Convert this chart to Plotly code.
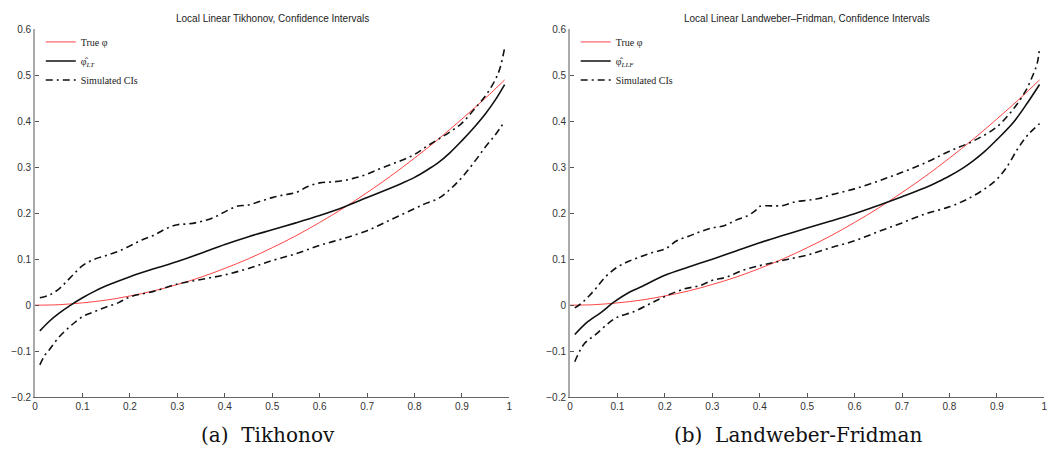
import plotly.graph_objects as go

# ---------------- data ----------------
true_x = [0, 0.05, 0.1, 0.15, 0.2, 0.25, 0.3, 0.35, 0.4, 0.45, 0.5, 0.55, 0.6,
          0.65, 0.7, 0.75, 0.8, 0.85, 0.9, 0.95, 0.99]
true_y = [0, 0.001, 0.005, 0.011, 0.02, 0.031, 0.045, 0.061, 0.08, 0.101, 0.125,
          0.151, 0.18, 0.211, 0.245, 0.281, 0.32, 0.361, 0.405, 0.451, 0.49]

lt_x = [0.01, 0.03, 0.05, 0.075, 0.1, 0.125, 0.15, 0.2, 0.25, 0.3, 0.35, 0.4, 0.45,
        0.5, 0.55, 0.6, 0.65, 0.7, 0.75, 0.775, 0.8, 0.825, 0.85, 0.875, 0.9, 0.925,
        0.95, 0.97, 0.99]
lt_y = [-0.056, -0.035, -0.018, 0.0, 0.016, 0.03, 0.042, 0.062, 0.079, 0.095, 0.113,
        0.132, 0.149, 0.164, 0.179, 0.195, 0.213, 0.234, 0.255, 0.266, 0.278, 0.293,
        0.31, 0.332, 0.358, 0.386, 0.417, 0.446, 0.48]

lt_up_x = [0.01, 0.03, 0.05, 0.065, 0.08, 0.1, 0.125, 0.15, 0.175, 0.2, 0.225, 0.25,
           0.275, 0.3, 0.325, 0.35, 0.375, 0.4, 0.425, 0.45, 0.475, 0.5, 0.525, 0.55,
           0.575, 0.6, 0.625, 0.65, 0.675, 0.7, 0.725, 0.75, 0.775, 0.8, 0.825, 0.85,
           0.875, 0.9, 0.925, 0.95, 0.97, 0.98, 0.99]
lt_up_y = [0.016, 0.022, 0.035, 0.05, 0.066, 0.086, 0.1, 0.108, 0.117, 0.129, 0.142,
           0.152, 0.166, 0.175, 0.177, 0.182, 0.19, 0.203, 0.215, 0.218, 0.226, 0.234,
           0.24, 0.245, 0.258, 0.266, 0.268, 0.271, 0.277, 0.285, 0.296, 0.306, 0.316,
           0.328, 0.345, 0.361, 0.377, 0.396, 0.425, 0.456, 0.49, 0.515, 0.56]

lt_lo_x = [0.01, 0.02, 0.03, 0.05, 0.075, 0.1, 0.125, 0.15, 0.175, 0.2, 0.25, 0.3,
           0.35, 0.4, 0.45, 0.5, 0.55, 0.6, 0.65, 0.7, 0.75, 0.8, 0.825, 0.85, 0.875,
           0.9, 0.925, 0.95, 0.97, 0.99]
lt_lo_y = [-0.13, -0.11, -0.097, -0.07, -0.045, -0.025, -0.014, -0.004, 0.005, 0.018,
           0.03, 0.046, 0.056, 0.066, 0.08, 0.097, 0.112, 0.13, 0.145, 0.162, 0.186,
           0.21, 0.222, 0.232, 0.252, 0.278, 0.31, 0.345, 0.37, 0.4]

llf_x = [0.01, 0.035, 0.065, 0.093, 0.125, 0.15, 0.2, 0.25, 0.3, 0.35, 0.4, 0.45,
         0.5, 0.55, 0.6, 0.65, 0.7, 0.75, 0.775, 0.8, 0.825, 0.85, 0.875, 0.9, 0.935,
         0.965, 0.99]
llf_y = [-0.064, -0.038, -0.016, 0.007, 0.028, 0.04, 0.065, 0.083, 0.1, 0.118, 0.136,
         0.152, 0.168, 0.183, 0.199, 0.217, 0.236, 0.256, 0.268, 0.281, 0.296, 0.314,
         0.335, 0.36, 0.398, 0.441, 0.48]

llf_up_x = [0.01, 0.025, 0.04, 0.055, 0.075, 0.1, 0.125, 0.15, 0.175, 0.2, 0.225,
            0.25, 0.275, 0.3, 0.325, 0.35, 0.375, 0.39, 0.4, 0.425, 0.45, 0.475, 0.5,
            0.525, 0.55, 0.6, 0.65, 0.7, 0.75, 0.8, 0.85, 0.9, 0.935, 0.96, 0.975,
            0.985, 0.99]
llf_up_y = [-0.006, 0.005, 0.02, 0.037, 0.062, 0.083, 0.096, 0.106, 0.115, 0.122,
            0.14, 0.15, 0.16, 0.168, 0.173, 0.185, 0.195, 0.205, 0.215, 0.216, 0.217,
            0.225, 0.228, 0.232, 0.24, 0.253, 0.27, 0.289, 0.31, 0.335, 0.357, 0.388,
            0.427, 0.465, 0.498, 0.526, 0.56]

llf_lo_x = [0.01, 0.03, 0.055, 0.08, 0.1, 0.135, 0.17, 0.2, 0.24, 0.275, 0.3, 0.33,
            0.365, 0.4, 0.43, 0.46, 0.5, 0.55, 0.6, 0.65, 0.7, 0.75, 0.8, 0.84, 0.88,
            0.9, 0.92, 0.945, 0.965, 0.99]
llf_lo_y = [-0.123, -0.084, -0.063, -0.04, -0.026, -0.014, 0.004, 0.019, 0.035,
            0.043, 0.054, 0.061, 0.076, 0.086, 0.093, 0.1, 0.109, 0.125, 0.14, 0.16,
            0.179, 0.199, 0.214, 0.232, 0.257, 0.274, 0.299, 0.342, 0.37, 0.395]

titles = ["Local Linear Tikhonov, Confidence Intervals",
          "Local Linear Landweber\u2013Fridman, Confidence Intervals"]
captions = ["(a)  Tikhonov", "(b)  Landweber-Fridman"]
est_names = ["\u03c6\u0302<sub><i>LT</i></sub>", "\u03c6\u0302<sub><i>LLF</i></sub>"]
x_ticks = [0, 0.1, 0.2, 0.3, 0.4, 0.5, 0.6, 0.7, 0.8, 0.9, 1]
y_ticks = [-0.2, -0.1, 0, 0.1, 0.2, 0.3, 0.4, 0.5, 0.6]

# ---------------- figure ----------------
W, H = 1048, 463
RED = "#ff4444"
DASHDOT = "7px,4px,2px,4px"

fig = go.Figure()
panels = [
    (lt_x, lt_y, lt_up_x, lt_up_y, lt_lo_x, lt_lo_y),
    (llf_x, llf_y, llf_up_x, llf_up_y, llf_lo_x, llf_lo_y),
]
for i, (ex, ey, ux, uy, lx, ly) in enumerate(panels):
    xa = "x" if i == 0 else "x2"
    ya = "y" if i == 0 else "y2"
    lg = "legend" if i == 0 else "legend2"
    fig.add_trace(go.Scatter(x=true_x, y=true_y, mode="lines", name="True \u03c6",
                             line=dict(color=RED, width=1, shape="spline"),
                             xaxis=xa, yaxis=ya, legend=lg))
    fig.add_trace(go.Scatter(x=ex, y=ey, mode="lines", name=est_names[i],
                             line=dict(color="#111", width=1.6, shape="spline"),
                             xaxis=xa, yaxis=ya, legend=lg))
    fig.add_trace(go.Scatter(x=ux, y=uy, mode="lines", name="Simulated CIs",
                             line=dict(color="#111", width=1.6, dash=DASHDOT, shape="spline"),
                             xaxis=xa, yaxis=ya, legend=lg))
    fig.add_trace(go.Scatter(x=lx, y=ly, mode="lines", name="Simulated CIs",
                             showlegend=False,
                             line=dict(color="#111", width=1.6, dash=DASHDOT, shape="spline"),
                             xaxis=xa, yaxis=ya, legend=lg))

x_dom = [[32.3 / W, 509.3 / W], [570.3 / W, 1047.3 / W]]
y_dom = [(H - 401.5) / H, (H - 24) / H]

tick_font = dict(family="Liberation Sans, Arial, sans-serif", size=10, color="#333")
common_x = dict(range=[0, 1], tickvals=x_ticks, ticks="inside", ticklen=4,
                tickcolor="#555", showline=True, linecolor="#666", linewidth=1,
                showgrid=False, zeroline=False, tickfont=tick_font, mirror=False)
common_y = dict(range=[-0.2, 0.6], tickvals=y_ticks, ticks="inside", ticklen=4,
                tickcolor="#555", showline=True, linecolor="#aaa", linewidth=2,
                showgrid=False, zeroline=False, tickfont=tick_font, mirror=False)

legend_font = dict(family="Liberation Serif, DejaVu Serif, serif", size=10, color="#222")
fig.update_layout(
    width=W, height=H,
    margin=dict(l=0, r=0, t=0, b=0),
    paper_bgcolor="white", plot_bgcolor="white",
    xaxis=dict(domain=x_dom[0], anchor="y", **common_x),
    yaxis=dict(domain=y_dom, anchor="x", **common_y),
    xaxis2=dict(domain=x_dom[1], anchor="y2", **common_x),
    yaxis2=dict(domain=y_dom, anchor="x2", **common_y),
    legend=dict(x=38 / W, y=1 - 22 / H, xanchor="left", yanchor="top",
                bgcolor="rgba(0,0,0,0)", font=legend_font, itemwidth=30,
                tracegroupgap=0),
    legend2=dict(x=576 / W, y=1 - 22 / H, xanchor="left", yanchor="top",
                 bgcolor="rgba(0,0,0,0)", font=legend_font, itemwidth=30,
                 tracegroupgap=0),
    showlegend=True,
)

title_font = dict(family="Liberation Sans, Arial, sans-serif", size=10, color="#222")
cap_font = dict(family="DejaVu Serif, Liberation Serif, serif", size=20, color="#111")
centers = [(x_dom[0][0] + x_dom[0][1]) / 2, (x_dom[1][0] + x_dom[1][1]) / 2]
for i in range(2):
    fig.add_annotation(text=titles[i], xref="paper", yref="paper",
                       x=centers[i], y=1 - 13 / H, xanchor="center", yanchor="middle",
                       showarrow=False, font=title_font)
    fig.add_annotation(text=captions[i], xref="paper", yref="paper",
                       x=[267 / W, 800 / W][i], y=1 - 440 / H, xanchor="center",
                       yanchor="middle", showarrow=False, font=cap_font)

fig.write_html("out.html")
